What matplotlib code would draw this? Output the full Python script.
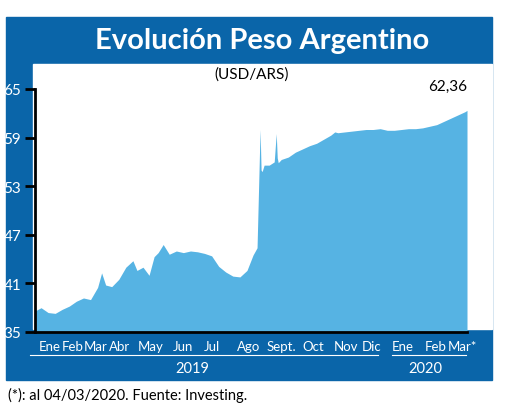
import pandas as pd
import matplotlib.pyplot as plt
from matplotlib.patches import Rectangle
from matplotlib.lines import Line2D

plt.rcParams['font.family'] = ['Lato', 'DejaVu Sans']

# cotizacion USD/ARS (lectura aproximada del grafico)
fechas = ["2019-01-01", "2019-01-07", "2019-01-14", "2019-01-21", "2019-01-28", "2019-02-04",
          "2019-02-11", "2019-02-18", "2019-02-25", "2019-03-04", "2019-03-08", "2019-03-12",
          "2019-03-18", "2019-03-25", "2019-04-01", "2019-04-08", "2019-04-12", "2019-04-18",
          "2019-04-24", "2019-04-29", "2019-05-03", "2019-05-08", "2019-05-14", "2019-05-21",
          "2019-05-28", "2019-06-04", "2019-06-11", "2019-06-18", "2019-06-25", "2019-07-02",
          "2019-07-09", "2019-07-16", "2019-07-23", "2019-07-30", "2019-08-05", "2019-08-09",
          "2019-08-12", "2019-08-13", "2019-08-14", "2019-08-16", "2019-08-21", "2019-08-26",
          "2019-08-28", "2019-08-29", "2019-08-30", "2019-09-02", "2019-09-09", "2019-09-16",
          "2019-09-23", "2019-09-30", "2019-10-07", "2019-10-14", "2019-10-21", "2019-10-25",
          "2019-10-28", "2019-11-04", "2019-11-11", "2019-11-18", "2019-11-25", "2019-12-02",
          "2019-12-09", "2019-12-16", "2019-12-23", "2019-12-30", "2020-01-06", "2020-01-13",
          "2020-01-20", "2020-01-27", "2020-02-03", "2020-02-10", "2020-02-17", "2020-02-24",
          "2020-03-02", "2020-03-04"]
valores = [37.6, 38.0, 37.4, 37.3, 37.8, 38.2, 38.8, 39.2, 39.0, 40.5, 42.3, 40.8,
           40.6, 41.5, 43.0, 43.8, 42.6, 43.0, 42.0, 44.3, 44.8, 45.8, 44.6, 45.0,
           44.8, 45.0, 44.9, 44.7, 44.4, 43.1, 42.4, 41.9, 41.8, 42.6, 44.5, 45.4,
           60.0, 55.0, 54.8, 55.6, 55.6, 56.0, 59.5, 56.5, 55.9, 56.3, 56.6, 57.2,
           57.6, 58.0, 58.3, 58.8, 59.3, 59.7, 59.6, 59.7, 59.8, 59.9, 60.0, 60.0,
           60.1, 59.9, 59.9, 60.0, 60.1, 60.1, 60.2, 60.4, 60.6, 61.0, 61.4, 61.8,
           62.2, 62.36]
yticks = [35, 41, 47, 53, 59, 65]
meses = ["Ene", "Feb", "Mar", "Abr", "May", "Jun", "Jul", "Ago", "Sept.", "Oct",
         "Nov", "Dic", "Ene", "Feb", "Mar*"]
meses_x = [50, 73, 96, 120, 151, 183, 212, 249, 281, 313, 346, 372, 403, 436, 462]

fechas = pd.to_datetime(fechas)
azul = "#0a65a9"
celeste = "#56b3e3"

fig = plt.figure(figsize=(5.2, 4.06), dpi=100)
W, H = 520, 406

def px(x, y):
    return x / W, 1 - y / H

# marco azul y zona blanca
fig.patches.append(Rectangle(px(6, 381), 486 / W, 363 / H, transform=fig.transFigure,
                             color=azul, zorder=-2))
fig.patches.append(Rectangle(px(33, 330), 459 / W, 265 / H, transform=fig.transFigure,
                             color="white", zorder=-1))
fig.text(*px(262, 41), "Evolución Peso Argentino", color="white", fontsize=21,
         fontweight="bold", ha="center", va="center")
fig.text(*px(252, 75), "(USD/ARS)", fontsize=11, ha="center", va="center")

ax = fig.add_axes([35 / W, 1 - 333 / H, 432 / W, 243 / H])
ax.set_zorder(2)
ax.fill_between(fechas, 35, valores, color=celeste, lw=0)
ax.set_xlim(pd.Timestamp("2019-01-01"), fechas[-1])
ax.set_ylim(35, 65)
ax.set_yticks(yticks)
ax.set_yticklabels([str(v) for v in yticks], color="white", fontsize=11)
ax.tick_params(axis="y", direction="out", length=7, width=2, pad=3)
ax.tick_params(axis="x", bottom=False, labelbottom=False)
for s in ["top", "right"]:
    ax.spines[s].set_visible(False)
ax.spines["left"].set_linewidth(2)
ax.spines["bottom"].set_linewidth(2)
ax.set_facecolor("none")
ax.text(fechas[-1], 64.5, "62,36", ha="right", va="bottom", fontsize=11, clip_on=False)

for m, x in zip(meses, meses_x):
    fig.text(*px(x, 347), m, color="white", fontsize=9.5, ha="center", va="center")
fig.add_artist(Line2D([30 / W, 378 / W], [1 - 356 / H] * 2, color="white", lw=0.8))
fig.add_artist(Line2D([392 / W, 466 / W], [1 - 356 / H] * 2, color="white", lw=0.8))
fig.text(*px(192, 369), "2019", color="white", fontsize=10.5, ha="center", va="center")
fig.text(*px(425, 369), "2020", color="white", fontsize=10.5, ha="center", va="center")
fig.text(*px(8, 395), "(*): al 04/03/2020. Fuente: Investing.", fontsize=10.5,
         ha="left", va="center")

fig.savefig("out.png", dpi=100)
